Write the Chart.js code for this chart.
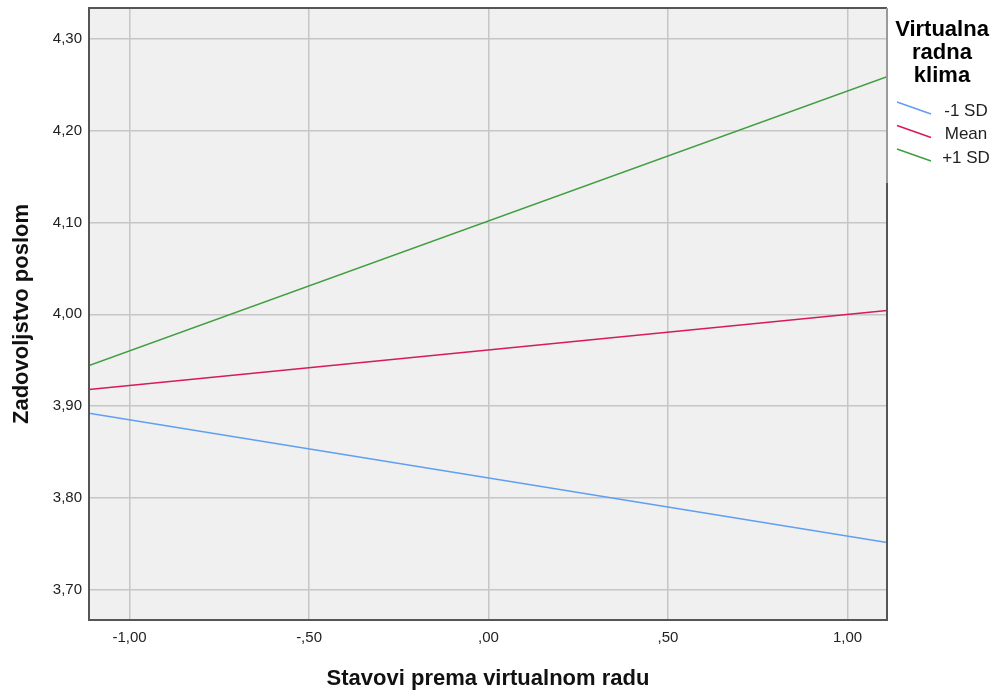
<!DOCTYPE html>
<html>
<head>
<meta charset="utf-8">
<script src="https://cdn.jsdelivr.net/npm/chart.js@4/dist/chart.umd.min.js"></script>
<style>
  html, body { margin: 0; padding: 0; background: #fff; }
  #wrap { width: 996px; height: 693px; }
</style>
</head>
<body>
<div id="wrap"><canvas id="chart"></canvas></div>
<script>
// data
const xValues = [-1.113, 1.110];
const lowSD = [3.892, 3.751];
const meanLine = [3.918, 4.004];
const highSD = [3.944, 4.259];
const seriesLabels = ['-1 SD', 'Mean', '+1 SD'];
const xTicks = [-1, -0.5, 0, 0.5, 1];
const xTickLabels = ['-1,00', '-,50', ',00', ',50', '1,00'];
const yTicks = [3.7, 3.8, 3.9, 4.0, 4.1, 4.2, 4.3];
const yTickLabels = ['3,70', '3,80', '3,90', '4,00', '4,10', '4,20', '4,30'];
const legendTitle = ['Virtualna', 'radna', 'klima'];

const colors = ['#5f9ef0', '#d81a55', '#3f9e3f'];
const font = '"Liberation Sans", Arial, sans-serif';

const toPoints = ys => xValues.map((x, i) => ({ x: x, y: ys[i] }));

// plot background + frame
const frame = {
  id: 'frame',
  beforeDraw(chart) {
    const { ctx, chartArea: a } = chart;
    ctx.save();
    ctx.fillStyle = '#f0f0f0';
    ctx.fillRect(a.left, a.top, a.right - a.left, a.bottom - a.top);
    ctx.restore();
  },
  afterDatasetsDraw(chart) {
    const { ctx, chartArea: a } = chart;
    ctx.save();
    ctx.lineWidth = 2;
    ctx.strokeStyle = '#555';
    ctx.beginPath();
    ctx.moveTo(a.right, 183);
    ctx.lineTo(a.right, a.bottom);
    ctx.lineTo(a.left, a.bottom);
    ctx.lineTo(a.left, a.top);
    ctx.lineTo(a.right, a.top);
    ctx.stroke();
    ctx.strokeStyle = '#9a9a9a';
    ctx.beginPath();
    ctx.moveTo(a.right, a.top);
    ctx.lineTo(a.right, 183);
    ctx.stroke();
    ctx.restore();
  }
};

// SPSS-like legend on the right
const sideLegend = {
  id: 'sideLegend',
  afterDraw(chart) {
    const { ctx } = chart;
    ctx.save();
    ctx.fillStyle = '#000';
    ctx.textAlign = 'center';
    ctx.textBaseline = 'middle';
    ctx.font = 'bold 22px ' + font;
    legendTitle.forEach((t, i) => ctx.fillText(t, 942, 30 + i * 23));
    ctx.font = '17px ' + font;
    chart.data.datasets.forEach((ds, i) => {
      const y = 108 + i * 23.5;
      ctx.strokeStyle = ds.borderColor;
      ctx.lineWidth = 1.5;
      ctx.beginPath();
      ctx.moveTo(897, y - 6);
      ctx.lineTo(931, y + 6);
      ctx.stroke();
      ctx.fillStyle = '#222';
      ctx.fillText(ds.label, 966, y + 3);
    });
    ctx.restore();
  }
};

new Chart(document.getElementById('chart'), {
  type: 'line',
  data: {
    datasets: [
      { label: seriesLabels[0], data: toPoints(lowSD), borderColor: colors[0] },
      { label: seriesLabels[1], data: toPoints(meanLine), borderColor: colors[1] },
      { label: seriesLabels[2], data: toPoints(highSD), borderColor: colors[2] }
    ].map(d => Object.assign(d, { borderWidth: 1.5, pointRadius: 0, tension: 0, fill: false }))
  },
  options: {
    responsive: true,
    maintainAspectRatio: false,
    animation: false,
    layout: { padding: { left: 0, top: 8, right: 109, bottom: 0 } },
    plugins: {
      legend: { display: false },
      tooltip: { enabled: false }
    },
    scales: {
      x: {
        type: 'linear',
        min: xValues[0],
        max: xValues[1],
        afterBuildTicks: s => { s.ticks = xTicks.map(v => ({ value: v })); },
        afterFit: s => { s.height = 73; s.paddingLeft = 0; s.paddingRight = 0; },
        grid: { color: '#c6c6c6', lineWidth: 1.5, drawTicks: false },
        border: { display: false },
        ticks: {
          padding: 9,
          color: '#222',
          font: { family: font, size: 15 },
          callback: v => xTickLabels[xTicks.indexOf(v)]
        },
        title: {
          display: true,
          text: 'Stavovi prema virtualnom radu',
          color: '#111',
          font: { family: font, size: 22, weight: 'bold' },
          padding: { top: 0, bottom: 1 }
        }
      },
      y: {
        type: 'linear',
        min: 3.6666,
        max: 4.334,
        afterBuildTicks: s => { s.ticks = yTicks.map(v => ({ value: v })); },
        afterFit: s => { s.width = 89; s.paddingTop = 0; s.paddingBottom = 0; },
        grid: { color: '#c6c6c6', lineWidth: 1.5, drawTicks: false },
        border: { display: false },
        ticks: {
          padding: 7,
          color: '#222',
          font: { family: font, size: 15 },
          callback: v => yTickLabels[yTicks.findIndex(t => Math.abs(t - v) < 1e-6)]
        },
        title: {
          display: true,
          text: 'Zadovoljstvo poslom',
          color: '#111',
          font: { family: font, size: 22, weight: 'bold' },
          padding: { top: 9, bottom: 0 }
        }
      }
    }
  },
  plugins: [frame, sideLegend]
});
</script>
</body>
</html>
